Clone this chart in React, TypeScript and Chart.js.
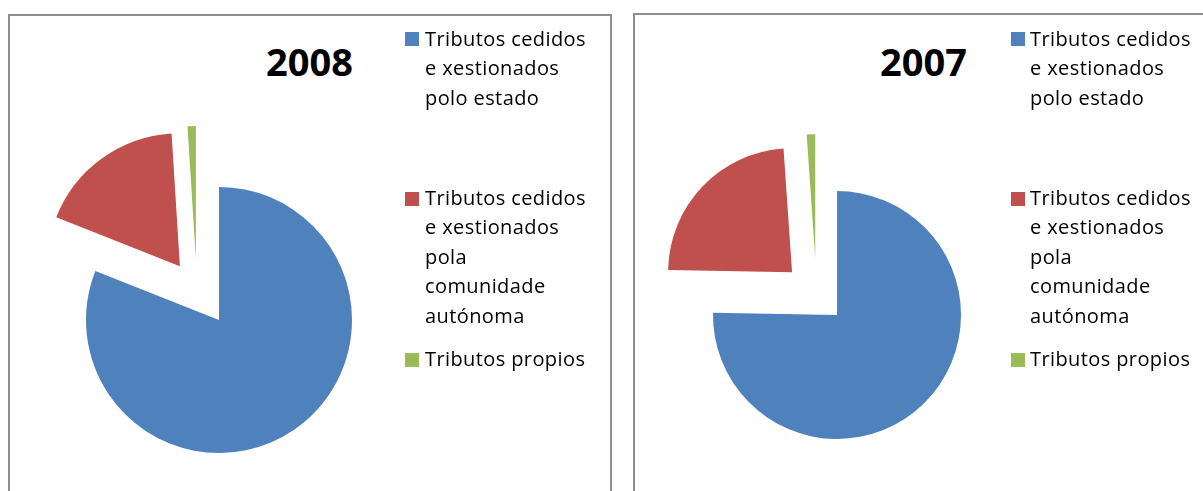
import React, { useEffect, useRef } from "react";
import { Chart, registerables } from "chart.js";

Chart.register(...registerables);

// ---- data ----
const categories = [
  "Tributos cedidos e xestionados polo estado",
  "Tributos cedidos e xestionados pola comunidade autónoma",
  "Tributos propios",
];
const legendLines = [
  ["Tributos cedidos", "e xestionados", "polo estado"],
  ["Tributos cedidos", "e xestionados", "pola", "comunidade", "autónoma"],
  ["Tributos propios"],
];
const values2008 = [81.0, 18.0, 1.0];
const values2007 = [75.3, 23.6, 1.1];
const colors = ["#4F81BD", "#C0504D", "#9BBB59"];
// Excel-style point explosion (fraction of radius) per slice, and tilt of its direction (deg)
const explosion = [0, 0.5, 0.49];
const explosionTilt = [0, 0, -19];

// plugin: moves each exploded arc outward
const explodePlugin = {
  id: "explodeSlices",
  afterDatasetsUpdate(chart: any, _args: any, opts: any) {
    const fr: number[] = opts.explode || [];
    const tilt: number[] = opts.tilt || [];
    chart.getSortedVisibleDatasetMetas().forEach((meta: any) => {
      meta.data.forEach((arc: any, i: number) => {
        const f = fr[i] || 0;
        if (!f) return;
        const mid = (arc.startAngle + arc.endAngle) / 2 + ((tilt[i] || 0) * Math.PI) / 180;
        const d = f * arc.outerRadius;
        arc.x = arc.x + Math.cos(mid) * d;
        arc.y = arc.y + Math.sin(mid) * d;
      });
    });
  },
};

type PanelProps = {
  title: string;
  values: number[];
  panel: { left: number; top: number; width: number };
  pie: { cx: number; cy: number; r: number };
  titlePos: { left: number; top: number };
  legendLeft: number;
  squareLeft: number;
};

const LEGEND_TOPS = [23.5, 182.5, 344];
const SQUARE_TOPS = [32, 192, 353];
const CANVAS = 420;

function PiePanel(p: PanelProps) {
  const ref = useRef<HTMLCanvasElement | null>(null);
  useEffect(() => {
    if (!ref.current) return;
    const chart = new Chart(ref.current, {
      type: "pie",
      data: {
        labels: categories,
        datasets: [
          {
            data: p.values,
            backgroundColor: colors,
            borderWidth: 0,
            hoverOffset: 0,
          },
        ],
      },
      options: {
        animation: false,
        responsive: true,
        maintainAspectRatio: false,
        radius: p.pie.r,
        layout: { padding: 0 },
        plugins: {
          legend: { display: false },
          tooltip: { enabled: false },
          title: { display: false },
          explodeSlices: { explode: explosion, tilt: explosionTilt },
        },
      } as any,
      plugins: [explodePlugin as any],
    });
    return () => chart.destroy();
  }, []);

  return (
    <>
      <div
        style={{
          position: "absolute",
          left: p.panel.left,
          top: p.panel.top,
          width: p.panel.width,
          height: 600,
          border: "2px solid #8e8e8e",
          boxSizing: "border-box",
          background: "#fff",
        }}
      />
      <div
        style={{
          position: "absolute",
          left: p.pie.cx - CANVAS / 2,
          top: p.pie.cy - CANVAS / 2,
          width: CANVAS,
          height: CANVAS,
        }}
      >
        <canvas ref={ref} />
      </div>
      <div
        style={{
          position: "absolute",
          left: p.titlePos.left,
          top: p.titlePos.top,
          fontFamily: "'Open Sans', sans-serif",
          fontWeight: 700,
          fontSize: 38,
          lineHeight: "38px",
          color: "#000",
          whiteSpace: "nowrap",
        }}
      >
        {p.title}
      </div>
      {legendLines.map((lines, i) => (
        <React.Fragment key={i}>
          <div
            style={{
              position: "absolute",
              left: p.squareLeft,
              top: SQUARE_TOPS[i],
              width: 14,
              height: 14,
              background: colors[i],
            }}
          />
          <div
            style={{
              position: "absolute",
              left: p.legendLeft,
              top: LEGEND_TOPS[i],
              fontFamily: "'Open Sans', sans-serif",
              fontSize: 20,
              lineHeight: "29.5px",
              letterSpacing: "0.4px",
              color: "#000",
              whiteSpace: "nowrap",
            }}
          >
            {lines.map((l, j) => (
              <div key={j}>{l}</div>
            ))}
          </div>
        </React.Fragment>
      ))}
    </>
  );
}

export default function App() {
  return (
    <div
      style={{
        position: "absolute",
        left: 0,
        top: 0,
        width: 1203,
        height: 491,
        overflow: "hidden",
        background: "#fff",
      }}
    >
      <PiePanel
        title="2008"
        values={values2008}
        panel={{ left: 8, top: 14, width: 604 }}
        pie={{ cx: 219, cy: 320, r: 133 }}
        titlePos={{ left: 266, top: 42 }}
        legendLeft={425}
        squareLeft={405}
      />
      <PiePanel
        title="2007"
        values={values2007}
        panel={{ left: 633, top: 13, width: 700 }}
        pie={{ cx: 837, cy: 315, r: 124 }}
        titlePos={{ left: 880, top: 42 }}
        legendLeft={1030}
        squareLeft={1011}
      />
    </div>
  );
}
